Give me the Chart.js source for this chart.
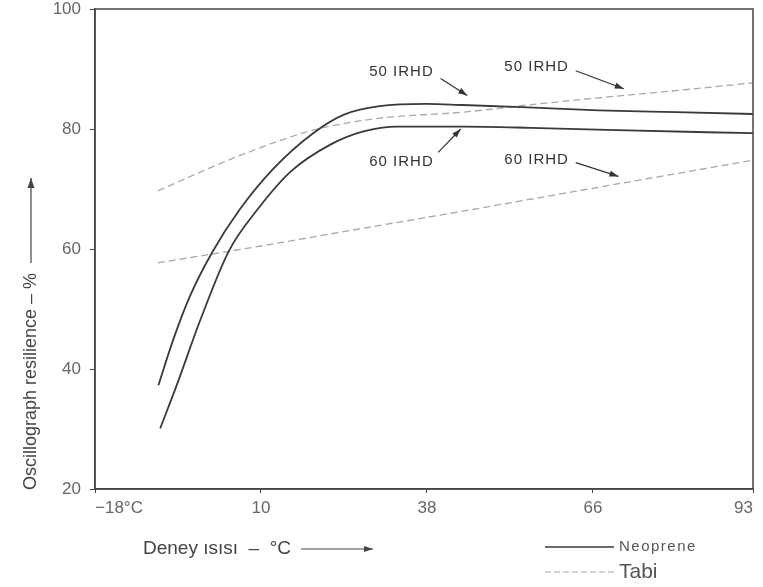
<!DOCTYPE html>
<html>
<head>
<meta charset="utf-8">
<script src="https://cdn.jsdelivr.net/npm/chart.js@4/dist/chart.umd.min.js"></script>
<style>
  html, body { margin: 0; padding: 0; background: #fff; }
  #wrap { width: 763px; height: 587px; position: relative; }
</style>
</head>
<body>
<div id="wrap"><canvas id="c" width="763" height="587"></canvas></div>
<script>
// ---- data ----
const xTicks = [-18, 10, 38, 66, 93];
const xTickLabels = ['\u221218\u00b0C', '10', '38', '66', '93'];
const yTicks = [20, 40, 60, 80, 100];

const neo50X = [-7.3, -4.8, -2.0, 1.8, 6.5, 12.1, 18.8, 24, 30, 38, 44, 55, 67, 80, 93];
const neo50Y = [37.3, 44.9, 52.1, 59.5, 66.7, 73.4, 79.3, 82.4, 83.8, 84.2, 84.0, 83.6, 83.1, 82.8, 82.5];

const neo60X = [-7.0, -4.1, -0.3, 4.6, 9.5, 15, 21.7, 27.3, 33, 44, 55.5, 70, 93];
const neo60Y = [30.1, 37.6, 48.0, 59.7, 66.7, 72.9, 77.4, 79.6, 80.4, 80.4, 80.2, 79.8, 79.3];

const tabi50X = [-7.4, 6.5, 18.8, 30, 44, 55, 67, 80, 93];
const tabi50Y = [69.7, 75.6, 79.8, 81.8, 82.8, 84.0, 85.2, 86.4, 87.7];

const tabi60X = [-7.4, 10, 23.4, 44, 67, 93];
const tabi60Y = [57.7, 60.5, 62.8, 66.3, 70.3, 74.8];

const annotations = [
  { text: '50 IRHD', tx: 33.7, ty: 89.5, ax1: 40.3, ay1: 88.4, ax2: 44.8, ay2: 85.6 },
  { text: '50 IRHD', tx: 56.5, ty: 90.4, ax1: 63.1, ay1: 89.7, ax2: 71.2, ay2: 86.7 },
  { text: '60 IRHD', tx: 33.7, ty: 74.6, ax1: 39.9, ay1: 76.1, ax2: 43.7, ay2: 80.0 },
  { text: '60 IRHD', tx: 56.5, ty: 74.9, ax1: 63.1, ay1: 74.4, ax2: 70.3, ay2: 72.1 }
];

const xTitle = 'Deney \u0131s\u0131s\u0131  \u2013  \u00b0C';
const yTitle = 'Oscillograph resilience \u2013 %';
const legendItems = [ { label: 'Neoprene', dash: [] }, { label: 'Tabi', dash: [6, 3] } ];

// ---- build ----
function pts(xs, ys) { return xs.map((x, i) => ({ x: x, y: ys[i] })); }
const SOLID = '#3a3a3a';
const DASH = '#a8a8a8';
const FONT = '"Liberation Sans", Arial, sans-serif';

function arrowHead(ctx, x1, y1, x2, y2, len, w) {
  const a = Math.atan2(y2 - y1, x2 - x1);
  ctx.beginPath();
  ctx.moveTo(x2, y2);
  ctx.lineTo(x2 - len * Math.cos(a) + w * Math.sin(a), y2 - len * Math.sin(a) - w * Math.cos(a));
  ctx.lineTo(x2 - len * Math.cos(a) - w * Math.sin(a), y2 - len * Math.sin(a) + w * Math.cos(a));
  ctx.closePath();
  ctx.fill();
}

const decor = {
  id: 'decor',
  afterDraw(chart) {
    const ctx = chart.ctx, ca = chart.chartArea;
    const xs = chart.scales.x, ys = chart.scales.y;
    ctx.save();
    // frame
    ctx.strokeStyle = '#444';
    ctx.lineWidth = 1.5;
    ctx.strokeRect(ca.left, ca.top, ca.right - ca.left, ca.bottom - ca.top);

    // annotations
    ctx.fillStyle = '#333';
    ctx.strokeStyle = '#333';
    ctx.lineWidth = 1.2;
    ctx.font = '15px ' + FONT;
    ctx.letterSpacing = '1px';
    ctx.textAlign = 'center';
    ctx.textBaseline = 'middle';
    annotations.forEach(a => {
      ctx.fillText(a.text, xs.getPixelForValue(a.tx), ys.getPixelForValue(a.ty));
      const x1 = xs.getPixelForValue(a.ax1), y1 = ys.getPixelForValue(a.ay1);
      const x2 = xs.getPixelForValue(a.ax2), y2 = ys.getPixelForValue(a.ay2);
      ctx.beginPath(); ctx.moveTo(x1, y1); ctx.lineTo(x2, y2); ctx.stroke();
      arrowHead(ctx, x1, y1, x2, y2, 9, 3);
    });
    ctx.letterSpacing = '0px';

    // x title
    ctx.fillStyle = '#444';
    ctx.strokeStyle = '#444';
    ctx.font = '19px ' + FONT;
    ctx.textAlign = 'left';
    ctx.textBaseline = 'middle';
    const xtx = 143, xty = 549;
    ctx.fillText(xTitle, xtx, xty);
    const xw = ctx.measureText(xTitle).width;
    ctx.lineWidth = 1.2;
    ctx.beginPath(); ctx.moveTo(xtx + xw + 10, xty); ctx.lineTo(373, xty); ctx.stroke();
    arrowHead(ctx, 300, xty, 373, xty, 9, 3);

    // y title (rotated)
    ctx.save();
    ctx.translate(31, 490);
    ctx.rotate(-Math.PI / 2);
    ctx.textAlign = 'left';
    ctx.font = '18px ' + FONT;
    ctx.fillText(yTitle, 0, 0);
    const yw = ctx.measureText(yTitle).width;
    ctx.beginPath(); ctx.moveTo(yw + 10, 0); ctx.lineTo(312, 0); ctx.stroke();
    arrowHead(ctx, 200, 0, 312, 0, 10, 3.5);
    ctx.restore();

    // legend
    const lx1 = 545, lx2 = 614;
    const rows = [547, 572];
    legendItems.forEach((it, i) => {
      const yy = rows[i];
      ctx.setLineDash(it.dash);
      ctx.strokeStyle = i === 0 ? SOLID : DASH;
      ctx.lineWidth = i === 0 ? 1.6 : 1.2;
      ctx.beginPath(); ctx.moveTo(lx1, yy); ctx.lineTo(lx2, yy); ctx.stroke();
      ctx.setLineDash([]);
      ctx.fillStyle = '#555';
      if (i === 0) {
        ctx.font = '15px ' + FONT;
        ctx.letterSpacing = '1.5px';
      } else {
        ctx.font = '21px ' + FONT;
        ctx.letterSpacing = '0px';
      }
      ctx.fillText(it.label, 619, yy);
    });
    ctx.letterSpacing = '0px';
    ctx.restore();
  }
};

const tickFont = { family: FONT, size: 17 };

new Chart(document.getElementById('c'), {
  type: 'line',
  data: {
    datasets: [
      { label: 'Neoprene 50 IRHD', data: pts(neo50X, neo50Y), borderColor: SOLID, borderWidth: 1.8 },
      { label: 'Neoprene 60 IRHD', data: pts(neo60X, neo60Y), borderColor: SOLID, borderWidth: 1.8 },
      { label: 'Tabi 50 IRHD', data: pts(tabi50X, tabi50Y), borderColor: DASH, borderWidth: 1.3, borderDash: [7, 4] },
      { label: 'Tabi 60 IRHD', data: pts(tabi60X, tabi60Y), borderColor: DASH, borderWidth: 1.3, borderDash: [7, 4] }
    ]
  },
  options: {
    responsive: false,
    animation: false,
    layout: { padding: { left: 0, top: 9, right: 10, bottom: 0 } },
    elements: {
      point: { radius: 0, hoverRadius: 0 },
      line: { cubicInterpolationMode: 'monotone', fill: false }
    },
    plugins: { legend: { display: false }, tooltip: { enabled: false } },
    scales: {
      x: {
        type: 'linear', min: -18, max: 93,
        afterFit(s) { s.height = 98; s.paddingLeft = 0; s.paddingRight = 0; },
        afterBuildTicks(s) { s.ticks = xTicks.map(v => ({ value: v })); },
        border: { color: '#444', width: 1.5 },
        grid: { display: true, drawOnChartArea: false, tickLength: 4, color: '#444' },
        ticks: {
          align: 'inner', color: '#666', font: tickFont, padding: 5, maxRotation: 0,
          callback(v) { const i = xTicks.indexOf(v); return i >= 0 ? xTickLabels[i] : ''; }
        }
      },
      y: {
        type: 'linear', min: 20, max: 100,
        afterFit(s) { s.width = 95; s.paddingTop = 0; s.paddingBottom = 0; },
        afterBuildTicks(s) { s.ticks = yTicks.map(v => ({ value: v })); },
        border: { color: '#444', width: 1.5 },
        grid: { display: true, drawOnChartArea: false, tickLength: 5, color: '#444' },
        ticks: { color: '#666', font: tickFont, padding: 9 }
      }
    }
  },
  plugins: [decor]
});
</script>
</body>
</html>
